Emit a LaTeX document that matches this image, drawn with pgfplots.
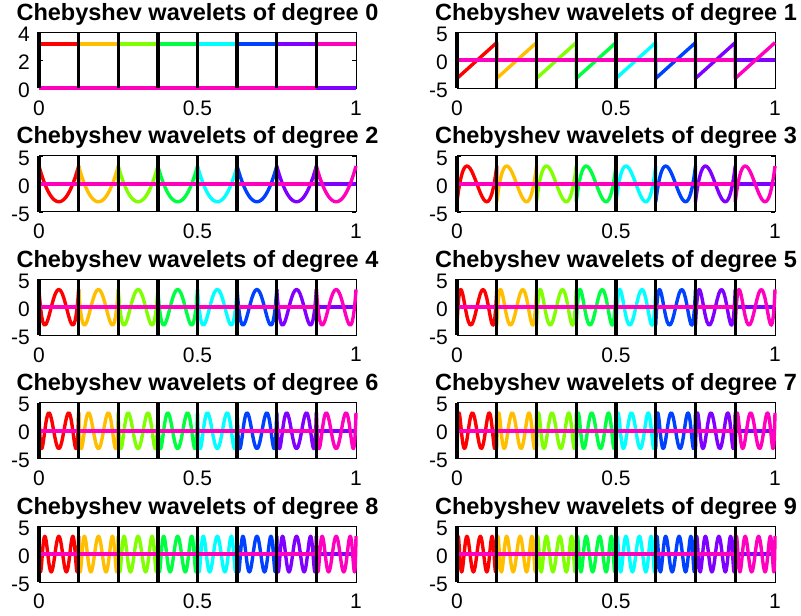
\documentclass[border=0pt]{standalone}
\usepackage{fontspec}
\setmainfont{Liberation Sans}
\usepackage{pgfplots}
\usepackage{pgfplotstable}
\pgfplotsset{compat=1.18}

\definecolor{c1}{rgb}{1,0,0}
\definecolor{c2}{rgb}{1,0.75,0}
\definecolor{c3}{rgb}{0.5,1,0}
\definecolor{c4}{rgb}{0,1,0.25}
\definecolor{c5}{rgb}{0,1,1}
\definecolor{c6}{rgb}{0,0.25,1}
\definecolor{c7}{rgb}{0.5,0,1}
\definecolor{c8}{rgb}{1,0,0.75}

% degree 0 and 1 on one subinterval of width 1/8
\pgfplotstableread{
x d0 d1
0 0 0
0 3.192 -3.192
0.125 3.192 3.192
0.125 0 0
}\tabZ

% degrees 2-5 on one subinterval
\pgfplotstableread{
x d2 d3 d4 d5
0 0 0 0 0
0 3.192 -3.192 3.192 -3.192
0.000238 3.143 -3.083 2.999 -2.893
0.000950 2.999 -2.764 2.445 -2.052
0.002130 2.764 -2.257 1.596 -0.826
0.003769 2.445 -1.596 0.554 0.554
0.005856 2.052 -0.826 -0.554 1.831
0.008373 1.596 0 -1.596 2.764
0.011303 1.092 0.826 -2.445 3.179
0.014622 0.554 1.596 -2.999 2.999
0.018306 0 2.257 -3.192 2.257
0.022326 -0.554 2.764 -2.999 1.092
0.026652 -1.092 3.083 -2.445 -0.278
0.03125 -1.596 3.192 -1.596 -1.596
0.036086 -2.052 3.083 -0.554 -2.614
0.041124 -2.445 2.764 0.554 -3.143
0.046324 -2.764 2.257 1.596 -3.083
0.051647 -2.999 1.596 2.445 -2.445
0.057053 -3.143 0.826 2.999 -1.349
0.0625 -3.192 0 3.192 0
0.067947 -3.143 -0.826 2.999 1.349
0.073353 -2.999 -1.596 2.445 2.445
0.078676 -2.764 -2.257 1.596 3.083
0.083876 -2.445 -2.764 0.554 3.143
0.088914 -2.052 -3.083 -0.554 2.614
0.09375 -1.596 -3.192 -1.596 1.596
0.098348 -1.092 -3.083 -2.445 0.278
0.102674 -0.554 -2.764 -2.999 -1.092
0.106694 0 -2.257 -3.192 -2.257
0.110378 0.554 -1.596 -2.999 -2.999
0.113697 1.092 -0.826 -2.445 -3.179
0.116627 1.596 0 -1.596 -2.764
0.119144 2.052 0.826 -0.554 -1.831
0.121231 2.445 1.596 0.554 -0.554
0.122870 2.764 2.257 1.596 0.826
0.124050 2.999 2.764 2.445 2.052
0.124762 3.143 3.083 2.999 2.893
0.125 3.192 3.192 3.192 3.192
0.125 0 0 0 0
}\tabA

% degrees 6-9 on one subinterval
\pgfplotstableread{
x d6 d7 d8 d9
0 0 0 0 0
0 3.192 -3.192 3.192 -3.192
0.0000595 3.083 -3.044 2.999 -2.949
0.000238 2.764 -2.614 2.445 -2.257
0.000535 2.257 -1.943 1.596 -1.221
0.000950 1.596 -1.092 0.554 0
0.001482 0.826 -0.139 -0.554 1.221
0.002130 0 0.826 -1.596 2.257
0.002893 -0.826 1.715 -2.445 2.949
0.003769 -1.596 2.445 -2.999 3.192
0.004758 -2.257 2.949 -3.192 2.949
0.005856 -2.764 3.179 -2.999 2.257
0.007062 -3.083 3.116 -2.445 1.221
0.008373 -3.192 2.764 -1.596 0
0.009788 -3.083 2.156 -0.554 -1.221
0.011303 -2.764 1.349 0.554 -2.257
0.012915 -2.257 0.417 1.596 -2.949
0.014622 -1.596 -0.554 2.445 -3.192
0.016420 -0.826 -1.474 2.999 -2.949
0.018306 0 -2.257 3.192 -2.257
0.020276 0.826 -2.831 2.999 -1.221
0.022326 1.596 -3.143 2.445 0
0.024452 2.257 -3.164 1.596 1.221
0.026652 2.764 -2.893 0.554 2.257
0.028919 3.083 -2.353 -0.554 2.949
0.03125 3.192 -1.596 -1.596 3.192
0.033641 3.083 -0.691 -2.445 2.949
0.036086 2.764 0.278 -2.999 2.257
0.038582 2.257 1.221 -3.192 1.221
0.041124 1.596 2.052 -2.999 0
0.043706 0.826 2.692 -2.445 -1.221
0.046324 0 3.083 -1.596 -2.257
0.048973 -0.826 3.189 -0.554 -2.949
0.051647 -1.596 2.999 0.554 -3.192
0.054342 -2.257 2.532 1.596 -2.949
0.057053 -2.764 1.831 2.445 -2.257
0.059774 -3.083 0.960 2.999 -1.221
0.0625 -3.192 0 3.192 0
0.065226 -3.083 -0.960 2.999 1.221
0.067947 -2.764 -1.831 2.445 2.257
0.070658 -2.257 -2.532 1.596 2.949
0.073353 -1.596 -2.999 0.554 3.192
0.076027 -0.826 -3.189 -0.554 2.949
0.078676 0 -3.083 -1.596 2.257
0.081294 0.826 -2.692 -2.445 1.221
0.083876 1.596 -2.052 -2.999 0
0.086418 2.257 -1.221 -3.192 -1.221
0.088914 2.764 -0.278 -2.999 -2.257
0.091359 3.083 0.691 -2.445 -2.949
0.09375 3.192 1.596 -1.596 -3.192
0.096081 3.083 2.353 -0.554 -2.949
0.098348 2.764 2.893 0.554 -2.257
0.100548 2.257 3.164 1.596 -1.221
0.102674 1.596 3.143 2.445 0
0.104724 0.826 2.831 2.999 1.221
0.106694 0 2.257 3.192 2.257
0.108580 -0.826 1.474 2.999 2.949
0.110378 -1.596 0.554 2.445 3.192
0.112085 -2.257 -0.417 1.596 2.949
0.113697 -2.764 -1.349 0.554 2.257
0.115212 -3.083 -2.156 -0.554 1.221
0.116627 -3.192 -2.764 -1.596 0
0.117938 -3.083 -3.116 -2.445 -1.221
0.119144 -2.764 -3.179 -2.999 -2.257
0.120242 -2.257 -2.949 -3.192 -2.949
0.121231 -1.596 -2.445 -2.999 -3.192
0.122107 -0.826 -1.715 -2.445 -2.949
0.122870 0 -0.826 -1.596 -2.257
0.123518 0.826 0.139 -0.554 -1.221
0.124050 1.596 1.092 0.554 0
0.124465 2.257 1.943 1.596 1.221
0.124762 2.764 2.614 2.445 2.257
0.124941 3.083 3.044 2.999 2.949
0.125 3.192 3.192 3.192 3.192
0.125 0 0 0 0
}\tabB

\tikzset{zl/.style={line width=4pt}}
% #1 table, #2 column, #3 index of the table's last row
\newcommand{\wavs}[3]{%
 \addplot[c1, zl] coordinates {(0.125,0) (1,0)};
 \addplot[c1, skip coords between index={0}{1}] table[x expr=\thisrow{x}, y=#2]{#1};
 \addplot[c2, zl] coordinates {(0,0) (0.125,0)};
 \addplot[c2, zl] coordinates {(0.25,0) (1,0)};
 \addplot[c2] table[x expr=\thisrow{x}+0.125, y=#2]{#1};
 \addplot[c3, zl] coordinates {(0,0) (0.25,0)};
 \addplot[c3, zl] coordinates {(0.375,0) (1,0)};
 \addplot[c3] table[x expr=\thisrow{x}+0.25, y=#2]{#1};
 \addplot[c4, zl] coordinates {(0,0) (0.375,0)};
 \addplot[c4, zl] coordinates {(0.5,0) (1,0)};
 \addplot[c4] table[x expr=\thisrow{x}+0.375, y=#2]{#1};
 \addplot[c5, zl] coordinates {(0,0) (0.5,0)};
 \addplot[c5, zl] coordinates {(0.625,0) (1,0)};
 \addplot[c5] table[x expr=\thisrow{x}+0.5, y=#2]{#1};
 \addplot[c6, zl] coordinates {(0,0) (0.625,0)};
 \addplot[c6, zl] coordinates {(0.75,0) (1,0)};
 \addplot[c6] table[x expr=\thisrow{x}+0.625, y=#2]{#1};
 \addplot[c7, zl] coordinates {(0,0) (0.75,0)};
 \addplot[c7, zl] coordinates {(0.875,0) (1,0)};
 \addplot[c7] table[x expr=\thisrow{x}+0.75, y=#2]{#1};
 \addplot[c8, zl] coordinates {(0,0) (0.875,0)};
 \addplot[c8, skip coords between index={#3}{1000}] table[x expr=\thisrow{x}+0.875, y=#2]{#1};
}
\newcommand{\bl}[1]{%
 \addplot[black, line width=3.3pt, ycomb] coordinates {(0,#1) (0.125,#1) (0.25,#1) (0.375,#1) (0.5,#1) (0.625,#1) (0.75,#1) (0.875,#1)};
}

\pgfplotsset{wv/.style={
  scale only axis, width=317pt, height=56pt, anchor=north west,
  xmin=0, xmax=1, ymin=-5, ymax=5,
  xtick={0,0.5,1}, xticklabels={0,0.5,1},
  ytick={-5,0,5}, yticklabels={-5,0,5},
  tick align=inside, major tick length=4pt,
  tick style={black, line width=0.6pt},
  axis line style={black, line width=0.8pt},
  ticklabel style={font=\fontsize{21}{25}\selectfont, inner sep=1pt},
  xticklabel style={yshift=-11pt},
  yticklabel style={xshift=-8pt, yshift=-2pt},
  title style={font=\bfseries\fontsize{23.5}{28}\selectfont, at={(0.5,1)}, anchor=base,
    inner sep=0pt, text depth=0pt, yshift=6pt},
  clip=false,
  every axis plot/.append style={line width=3.4pt, line join=round},
}}

\begin{document}
\begin{tikzpicture}
\useasboundingbox (0pt,0pt) rectangle (801pt,616pt);
% row 1
\begin{axis}[wv, at={(39pt,583.5pt)}, ymin=0, ymax=4, ytick={0,2,4}, yticklabels={0,2,4},
  title={Chebyshev wavelets of degree 0}]
\wavs{\tabZ}{d0}{3}
\bl{4}
\end{axis}
\begin{axis}[wv, at={(457pt,583.5pt)}, width=318pt, title={Chebyshev wavelets of degree 1}]
\wavs{\tabZ}{d1}{3}
\bl{5}\bl{-5}
\end{axis}
% row 2
\begin{axis}[wv, at={(39pt,460.1pt)}, title={Chebyshev wavelets of degree 2}]
\wavs{\tabA}{d2}{38}
\bl{5}\bl{-5}
\end{axis}
\begin{axis}[wv, at={(457pt,460.1pt)}, width=318pt, title={Chebyshev wavelets of degree 3}]
\wavs{\tabA}{d3}{38}
\bl{5}\bl{-5}
\end{axis}
% row 3
\begin{axis}[wv, at={(39pt,336.7pt)}, title={Chebyshev wavelets of degree 4}]
\wavs{\tabA}{d4}{38}
\bl{5}\bl{-5}
\end{axis}
\begin{axis}[wv, at={(457pt,336.7pt)}, width=318pt, title={Chebyshev wavelets of degree 5}]
\wavs{\tabA}{d5}{38}
\bl{5}\bl{-5}
\end{axis}
% row 4
\begin{axis}[wv, at={(39pt,213.3pt)}, title={Chebyshev wavelets of degree 6}]
\wavs{\tabB}{d6}{74}
\bl{5}\bl{-5}
\end{axis}
\begin{axis}[wv, at={(457pt,213.3pt)}, width=318pt, title={Chebyshev wavelets of degree 7}]
\wavs{\tabB}{d7}{74}
\bl{5}\bl{-5}
\end{axis}
% row 5
\begin{axis}[wv, at={(39pt,89.9pt)}, title={Chebyshev wavelets of degree 8}]
\wavs{\tabB}{d8}{74}
\bl{5}\bl{-5}
\end{axis}
\begin{axis}[wv, at={(457pt,89.9pt)}, width=318pt, title={Chebyshev wavelets of degree 9}]
\wavs{\tabB}{d9}{74}
\bl{5}\bl{-5}
\end{axis}
\end{tikzpicture}
\end{document}
